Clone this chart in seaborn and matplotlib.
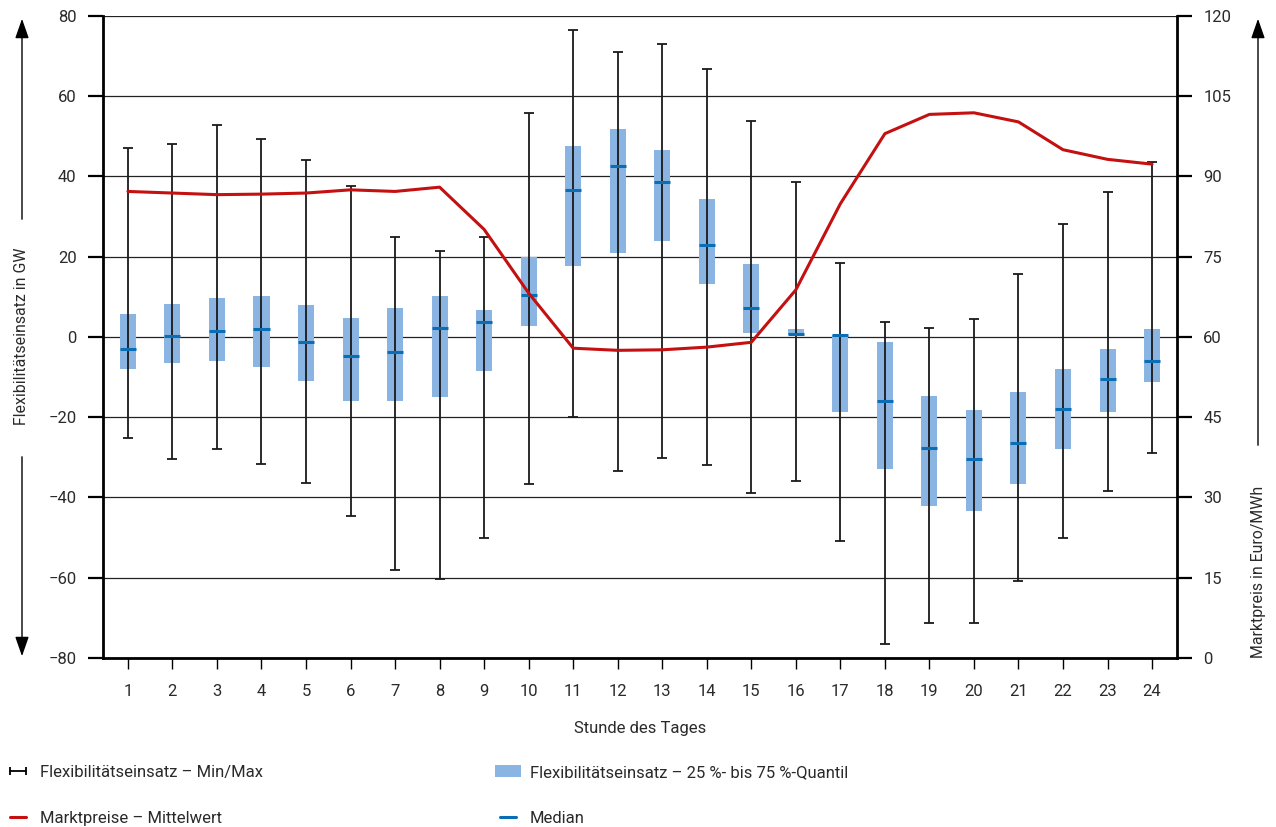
import numpy as np
import pandas as pd
import matplotlib
matplotlib.use('Agg')
import matplotlib.pyplot as plt
import seaborn as sns
from matplotlib.lines import Line2D
from matplotlib.patches import Patch, FancyArrowPatch

# Daten
stunden = list(range(1, 25))
flex_max = [47.0, 48.1, 52.8, 49.4, 44.2, 37.7, 24.8, 21.5, 25.0, 55.8, 76.4, 70.9,
            72.9, 66.9, 53.9, 38.7, 18.5, 3.7, 2.2, 4.5, 15.7, 28.2, 36.2, 43.6]
flex_min = [-25.3, -30.3, -27.8, -31.6, -36.5, -44.5, -58.2, -60.3, -50.2, -36.7, -19.9, -33.4,
            -30.1, -32.0, -38.8, -35.9, -50.8, -76.5, -71.2, -71.2, -60.9, -50.0, -38.4, -29.0]
q75 = [5.7, 8.2, 9.7, 10.2, 8.0, 4.7, 7.2, 10.2, 6.7, 19.9, 47.6, 51.8,
       46.5, 34.4, 18.2, 2.0, 0.6, -1.3, -14.7, -18.1, -13.6, -7.9, -3.0, 2.0]
q25 = [-8.1, -6.6, -5.9, -7.6, -11.1, -15.9, -15.9, -14.9, -8.4, 2.8, 17.8, 21.0,
       23.8, 13.3, 0.9, 0.4, -18.8, -33.0, -42.2, -43.4, -36.7, -27.8, -18.8, -11.3]
median = [-3.1, 0.2, 1.5, 1.9, -1.2, -4.7, -3.7, 2.2, 3.7, 10.4, 36.6, 42.6,
          38.5, 23.0, 7.1, 0.8, 0.4, -16.0, -27.6, -30.5, -26.5, -17.9, -10.6, -6.0]
preis = [87.2, 86.9, 86.6, 86.7, 86.9, 87.5, 87.2, 88.0, 80.1, 68.2, 57.9, 57.5,
         57.6, 58.1, 59.0, 68.8, 84.9, 98.0, 101.6, 101.9, 100.2, 95.0, 93.2, 92.3]

df = pd.DataFrame({'Stunde': stunden, 'max': flex_max, 'min': flex_min,
                   'q25': q25, 'q75': q75, 'median': median, 'preis': preis})

sns.set_theme(style='white')
plt.rcParams['font.family'] = ['Roboto', 'DejaVu Sans']
plt.rcParams['axes.unicode_minus'] = True

blau_box = '#8ab4e1'
blau_med = '#0a6eb4'
rot = '#c41010'
textfarbe = '#2a2a2a'
fs = 12

fig = plt.figure(figsize=(12.76, 8.27), dpi=100)
ax = fig.add_axes([0.0807, 0.2044, 0.9224 - 0.0807, 0.9807 - 0.2044])

# Gitter
ax.set_ylim(-80, 80)
ax.set_xlim(0.44, 24.56)
ax.set_yticks(np.arange(-80, 81, 20))
ax.yaxis.grid(True, color='#222222', linewidth=0.9, zorder=0)
ax.set_axisbelow(True)

# Quantil-Boxen
bw = 0.36
ax.bar(df['Stunde'], df['q75'] - df['q25'], bottom=df['q25'], width=bw,
       color=blau_box, linewidth=0, zorder=2)

# Min/Max
ax.errorbar(df['Stunde'], (df['max'] + df['min']) / 2,
            yerr=[(df['max'] - df['min']) / 2, (df['max'] - df['min']) / 2],
            fmt='none', ecolor='#1a1a1a', elinewidth=1.3, capsize=3.5, capthick=1.3, zorder=3)

# Median
ax.hlines(df['median'], df['Stunde'] - bw / 2, df['Stunde'] + bw / 2,
          color=blau_med, linewidth=2.2, zorder=4)

ax.set_xticks(stunden)
ax.set_xticklabels([str(s) for s in stunden])
ax.set_xlabel('')
ax.set_ylabel('')

# Preis auf rechter Achse
ax2 = ax.twinx()
sns.lineplot(data=df, x='Stunde', y='preis', ax=ax2, color=rot, linewidth=2.2, zorder=5)
ax2.set_ylim(0, 120)
ax2.set_yticks(np.arange(0, 121, 15))
ax2.set_ylabel('')
ax2.set_xlabel('')
ax2.grid(False)
ax2.set_xlim(0.44, 24.56)

for a in (ax, ax2):
    a.spines['top'].set_visible(False)
    for s in ['left', 'right', 'bottom']:
        a.spines[s].set_linewidth(2.0)
        a.spines[s].set_color('black')

ax.spines['right'].set_visible(False)
ax2.spines['left'].set_visible(False)
ax2.spines['bottom'].set_visible(False)

ax.tick_params(axis='y', direction='out', length=11, width=1.6, pad=8, labelsize=fs,
               colors='black', left=True)
ax.tick_params(axis='x', direction='out', length=8, width=1.0, pad=11, labelsize=fs,
               colors='black', bottom=True)
ax2.tick_params(axis='y', direction='out', length=11, width=1.6, pad=8, labelsize=fs,
                colors='black', right=True)
for lab in ax.get_xticklabels() + ax.get_yticklabels() + ax2.get_yticklabels():
    lab.set_color(textfarbe)

# Achsentitel mit Pfeilen
fig.text(640 / 1276, 1 - 728 / 827, 'Stunde des Tages', ha='center', va='center',
         fontsize=fs, color=textfarbe)
fig.text(22 / 1276, 1 - 336 / 827, 'Flexibilitätseinsatz in GW', rotation=90,
         ha='center', va='center', fontsize=11.4, color=textfarbe)
fig.text(1258 / 1276, 1 - 658 / 827, 'Marktpreis in Euro/MWh', rotation=90,
         ha='center', va='bottom', fontsize=11.4, color=textfarbe)

pfeil = dict(arrowstyle='-|>,head_width=0.35,head_length=1.0', color='black', lw=1.0)
fig.add_artist(FancyArrowPatch((22 / 1276, 1 - 222 / 827), (22 / 1276, 1 - 16 / 827),
                               transform=fig.transFigure, mutation_scale=12, **pfeil))
fig.add_artist(FancyArrowPatch((22 / 1276, 1 - 454 / 827), (22 / 1276, 1 - 659 / 827),
                               transform=fig.transFigure, mutation_scale=12, **pfeil))
fig.add_artist(FancyArrowPatch((1258 / 1276, 1 - 448 / 827), (1258 / 1276, 1 - 16 / 827),
                               transform=fig.transFigure, mutation_scale=12, **pfeil))

# Legende
h_minmax = Line2D([], [], color='black', linewidth=1.3, marker='|', markersize=6,
                  markeredgewidth=1.3)
h_preis = Line2D([], [], color=rot, linewidth=2.2)
h_quant = Patch(facecolor=blau_box, edgecolor='none')
h_med = Line2D([], [], color=blau_med, linewidth=2.2)
leg = fig.legend([h_minmax, h_preis, h_quant, h_med],
                 ['Flexibilitätseinsatz – Min/Max', 'Marktpreise – Mittelwert',
                  'Flexibilitätseinsatz – 25 %- bis 75 %-Quantil', 'Median'],
                 ncol=2, loc='upper left', bbox_to_anchor=(0.0, 1 - 760 / 827),
                 frameon=False, fontsize=fs, numpoints=2, handlelength=1.55,
                 handletextpad=0.55, columnspacing=13.9, labelspacing=1.85,
                 borderaxespad=0, borderpad=0.3)
for t in leg.get_texts():
    t.set_color(textfarbe)

fig.savefig('out.png', dpi=100)
